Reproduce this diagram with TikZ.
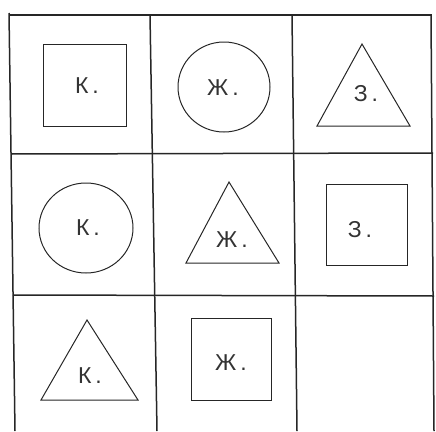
\documentclass[tikz,border=0pt]{standalone}
\usepackage{fontspec}
\setmainfont{Liberation Sans}
\newcommand{\dt}{\hspace{4pt}.}
\begin{document}
\begin{tikzpicture}[x=1pt,y=-1pt,
  gridline/.style={draw=black!85,line width=1.5pt},
  figline/.style={draw=black!85,line width=1pt},
  lbl/.style={font=\fontsize{23}{23}\selectfont,text=black!80,inner sep=0pt}]
\useasboundingbox (0,0) rectangle (436,431);
% grid corners
\coordinate (tl) at (9,15);
\coordinate (tr) at (432,15);
\coordinate (r1l) at (11,154);
\coordinate (r1r) at (433,153);
\coordinate (r2l) at (13,295);
\coordinate (r2r) at (434,296);
\coordinate (v0t) at (9,13);
\coordinate (v0b) at (15,431);
\coordinate (v1t) at (150,15);
\coordinate (v1b) at (157,431);
\coordinate (v2t) at (292,15);
\coordinate (v2b) at (297,431);
\coordinate (v3t) at (431,15);
\coordinate (v3b) at (434,431);
\draw[gridline] (tl) -- (tr);
\draw[gridline] (r1l) -- (r1r);
\draw[gridline] (r2l) -- (r2r);
\draw[gridline] (v0t) -- (v0b);
\draw[gridline] (v1t) -- (v1b);
\draw[gridline] (v2t) -- (v2b);
\draw[gridline] (v3t) -- (v3b);
% row 1
\draw[figline] (43,44) rectangle (126,126);
\node[lbl] (a1) at (87,86) {К\dt};
\draw[figline] (224,87) ellipse [x radius=46, y radius=45];
\node[lbl] (a2) at (223,88) {Ж\dt};
\draw[figline] (362,44) -- (410,126) -- (317,126) -- cycle;
\node[lbl] (a3) at (366,94) {З\dt};
% row 2
\draw[figline] (86,228) ellipse [x radius=47, y radius=45];
\node[lbl] (b1) at (88,228) {К\dt};
\draw[figline] (229,182) -- (279,263) -- (186,263) -- cycle;
\node[lbl] (b2) at (232,240) {Ж\dt};
\draw[figline] (326,184) rectangle (407,265);
\node[lbl] (b3) at (360,230) {З\dt};
% row 3
\draw[figline] (87,320) -- (138,400) -- (41,400) -- cycle;
\node[lbl] (c1) at (90,376) {К\dt};
\draw[figline] (191,318) rectangle (271,400);
\node[lbl] (c2) at (231,363) {Ж\dt};
\end{tikzpicture}
\end{document}
